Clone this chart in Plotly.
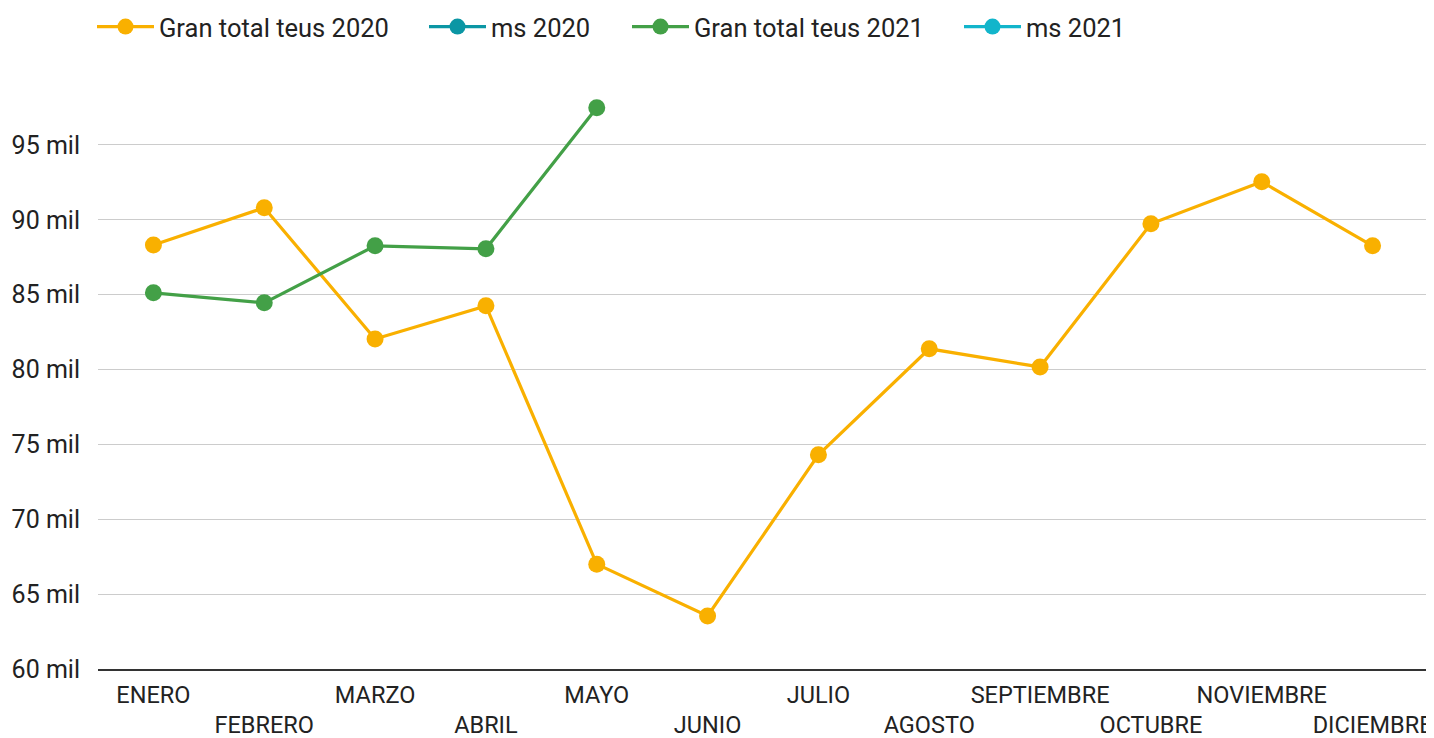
import plotly.graph_objects as go

months = ["ENERO", "FEBRERO", "MARZO", "ABRIL", "MAYO", "JUNIO", "JULIO",
          "AGOSTO", "SEPTIEMBRE", "OCTUBRE", "NOVIEMBRE", "DICIEMBRE"]
teus_2020 = [88320, 90800, 82040, 84250, 67000, 63540, 74300, 81380, 80170, 89730, 92530, 88260]
teus_2021 = [85120, 84450, 88260, 88060, 97480, None, None, None, None, None, None, None]
ms_2020 = [None] * 12
ms_2021 = [None] * 12
y_ticks = [60000, 65000, 70000, 75000, 80000, 85000, 90000, 95000]
y_tick_text = ["60 mil", "65 mil", "70 mil", "75 mil", "80 mil", "85 mil", "90 mil", "95 mil"]

FONT = "Roboto"
TXT = "#222222"
# the page body adds an 8px offset; size the figure so it fills the window exactly
OFF = 8
W, H = 1434 - OFF, 738 - OFF
ML, MR, MT, MB = 98 - OFF, 6, 70 - OFF, 69

# target screen left positions (px) of each legend entry's symbol
legend_px = [98, 430, 633, 965]
LEG_Y = 27 - OFF

fig = go.Figure()
series = [
    ("Gran total teus 2020", teus_2020, "#F9B000", "x"),
    ("ms 2020", ms_2020, "#0B96A4", "x2"),
    ("Gran total teus 2021", teus_2021, "#43A047", "x"),
    ("ms 2021", ms_2021, "#12B5CB", "x2"),
]
legend_names = ["legend", "legend2", "legend3", "legend4"]
for (name, vals, col, xa), lg in zip(series, legend_names):
    fig.add_trace(go.Scatter(x=months, y=vals, name=name, mode="lines+markers", xaxis=xa,
                             legend=lg,
                             line=dict(color=col, width=3.2), marker=dict(size=17, color=col)))

layout_legends = {}
for lg, px in zip(legend_names, legend_px):
    layout_legends[lg] = dict(
        orientation="h", xref="container", yref="container",
        x=(px - 14) / W, xanchor="left",
        y=1 - LEG_Y / H, yanchor="middle",
        font=dict(family=FONT, size=25.5, color=TXT), itemwidth=57,
        bgcolor="rgba(0,0,0,0)",
    )

fig.update_layout(
    width=W, height=H,
    margin=dict(l=ML, r=MR, t=MT, b=MB),
    paper_bgcolor="white", plot_bgcolor="white",
    font=dict(family=FONT, size=23.5, color=TXT),
    showlegend=True,
    **layout_legends,
    xaxis=dict(type="category", categoryorder="array", categoryarray=months, range=[-0.5, 11.5],
               tickvals=months[0::2], ticktext=months[0::2], showgrid=False, automargin=False,
               showline=True, linecolor="#333333", linewidth=2, ticks="",
               ticklabelstandoff=4, tickfont=dict(size=23.5, color=TXT)),
    xaxis2=dict(type="category", categoryorder="array", categoryarray=months, range=[-0.5, 11.5],
                overlaying="x", anchor="y", side="bottom", automargin=False,
                tickvals=months[1::2], ticktext=months[1::2], showgrid=False,
                showline=False, ticks="", ticklabelstandoff=39, tickfont=dict(size=23.5, color=TXT)),
    yaxis=dict(range=[60000, 100000], tickvals=y_ticks, ticktext=y_tick_text, automargin=False,
               showgrid=True, gridcolor="#CCCCCC", gridwidth=1, zeroline=False, showline=False,
               ticks="", ticklabelstandoff=17, tickfont=dict(size=25, color=TXT)),
)

fig.write_html("out.html")
